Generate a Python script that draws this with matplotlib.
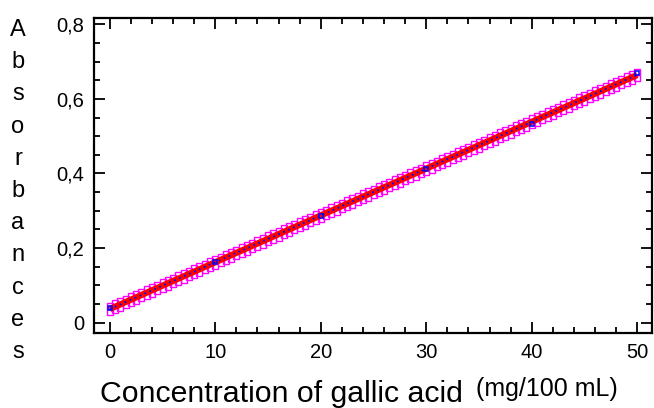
import matplotlib
matplotlib.use("Agg")
import matplotlib.pyplot as plt
import numpy as np
from matplotlib.ticker import MultipleLocator, FuncFormatter

plt.rcParams['font.family'] = ['Liberation Sans', 'DejaVu Sans']

conc = [0, 10, 20, 30, 40, 50]
absorb = [0.038, 0.163, 0.285, 0.413, 0.532, 0.670]

ylabel_letters = list("Absorbances")
xlabel_main = "Concentration of gallic acid"
xlabel_unit = "(mg/100 mL)"

# least squares line through the standards
slope, intercept = np.polyfit(conc, absorb, 1)
xfit = np.linspace(min(conc), max(conc), 101)
yfit = slope * xfit + intercept

fig = plt.figure(figsize=(6.54, 4.08), dpi=100)
ax = fig.add_axes([94 / 654, 1 - 333 / 408, (652 - 94) / 654, (333 - 18) / 408])

for off in (0.009, -0.009):
    ax.plot(xfit, yfit + off, ls="none", marker="s", ms=4, mfc="none",
            mec="#ff00ff", mew=1.0)
ax.plot(xfit, yfit, color="red", lw=4.5, solid_capstyle="butt")
ax.plot(xfit, yfit, color="#0000ff", lw=1.3, ls=(0, (1, 2)))
ax.plot(conc, absorb, ls="none", marker="s", ms=3.5, mfc="none", mec="#0000ff", mew=1.1)

ax.set_xlim(-1.5, 51.4)
ax.set_ylim(-0.028, 0.817)
ax.xaxis.set_major_locator(MultipleLocator(10))
ax.xaxis.set_minor_locator(MultipleLocator(2))
ax.yaxis.set_major_locator(MultipleLocator(0.2))
ax.yaxis.set_minor_locator(MultipleLocator(0.05))
ax.yaxis.set_major_formatter(FuncFormatter(lambda v, p: f"{v:g}".replace(".", ",")))

ax.tick_params(which="both", direction="in", top=True, right=True, width=1.3,
               labelsize=14.5, colors="black")
ax.tick_params(which="major", length=8, pad=7)
ax.tick_params(which="minor", length=4.5)
for s in ax.spines.values():
    s.set_linewidth(1.6)

# stacked vertical y label
ys = np.linspace(30, 352, len(ylabel_letters))
for ch, yp in zip(ylabel_letters, ys):
    fig.text(18 / 654, 1 - yp / 408, ch, fontsize=17, ha="center", va="center")

fig.text(100 / 654, 1 - 394 / 408, xlabel_main, fontsize=21.8, ha="left", va="center")
fig.text(476 / 654, 1 - 389 / 408, xlabel_unit, fontsize=18, ha="left", va="center")

fig.savefig("out.png", dpi=100)
